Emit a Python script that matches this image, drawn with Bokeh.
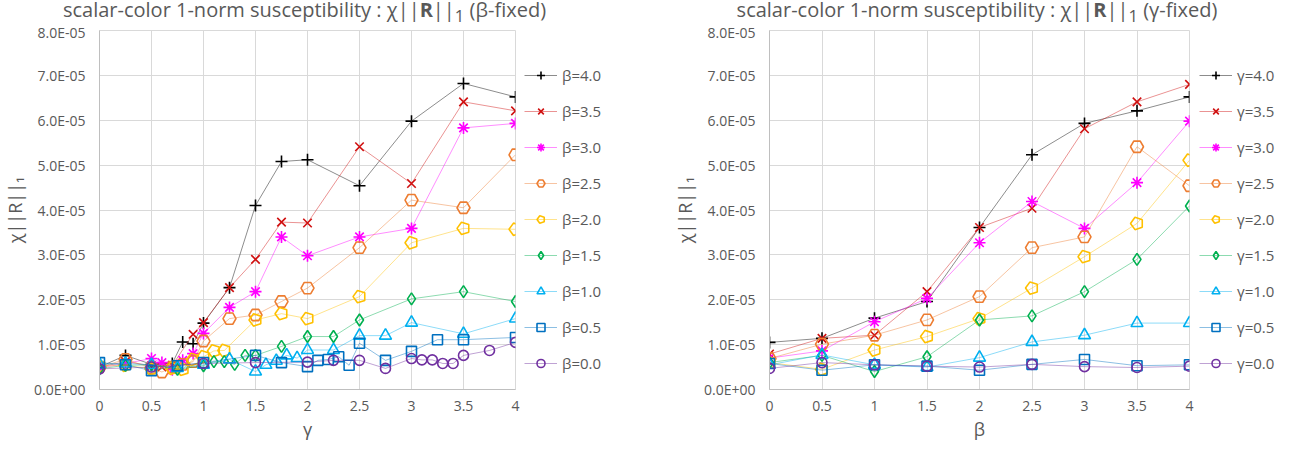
import numpy as np
from bokeh.plotting import figure
from bokeh.layouts import row, column
from bokeh.models import Range1d, FixedTicker, CustomJSTickFormatter, Legend, LegendItem, Div, Spacer
from bokeh.embed import file_html
from bokeh.resources import INLINE

SCALE = 1e-6  # values below are in units of 1E-06

# ---------------- left chart: beta fixed, x = gamma ----------------
b40_x = [0, 0.25, 0.5, 0.7, 0.8, 0.9, 1.0, 1.25, 1.5, 1.75, 2.0, 2.5, 3.0, 3.5, 4.0]
b40_y = [5.0, 7.6, 5.6, 5.8, 10.6, 10.2, 14.8, 22.7, 41.0, 50.8, 51.2, 45.4, 59.8, 68.2, 65.2]
b35_x = [0, 0.25, 0.5, 0.6, 0.7, 0.9, 1.0, 1.25, 1.5, 1.75, 2.0, 2.5, 3.0, 3.5, 4.0]
b35_y = [5.0, 6.2, 5.3, 5.0, 5.4, 12.3, 14.9, 22.7, 29.0, 37.3, 37.1, 54.1, 45.9, 64.1, 62.1]
b30_x = [0, 0.25, 0.5, 0.6, 0.7, 0.8, 0.9, 1.0, 1.25, 1.5, 1.75, 2.0, 2.5, 3.0, 3.5, 4.0]
b30_y = [4.8, 5.8, 6.9, 6.0, 4.4, 6.5, 8.0, 12.5, 18.3, 21.8, 34.0, 29.8, 34.0, 35.9, 58.3, 59.3]
b25_x = [0, 0.25, 0.5, 0.6, 0.7, 0.8, 0.9, 1.0, 1.25, 1.5, 1.75, 2.0, 2.5, 3.0, 3.5, 4.0]
b25_y = [5.0, 6.7, 4.8, 3.9, 5.0, 5.6, 6.2, 10.8, 15.8, 16.6, 19.6, 22.6, 31.6, 42.2, 40.5, 52.3]
b20_x = [0, 0.25, 0.5, 0.7, 0.8, 0.9, 1.0, 1.1, 1.2, 1.5, 1.75, 2.0, 2.5, 3.0, 3.5, 4.0]
b20_y = [5.2, 5.4, 4.6, 4.7, 4.5, 6.7, 7.3, 8.6, 8.7, 15.5, 16.9, 15.8, 20.7, 32.7, 35.9, 35.7]
b15_x = [0, 0.25, 0.5, 0.75, 1.0, 1.1, 1.2, 1.3, 1.4, 1.5, 1.75, 2.0, 2.25, 2.5, 3.0, 3.5, 4.0]
b15_y = [4.6, 5.4, 5.5, 4.5, 5.3, 6.2, 6.2, 5.6, 7.6, 7.6, 9.6, 11.8, 11.8, 15.5, 20.2, 21.8, 19.6]
b10_x = [0, 0.25, 0.5, 0.75, 1.0, 1.25, 1.5, 1.6, 1.7, 1.8, 1.9, 2.0, 2.25, 2.5, 2.75, 3.0, 3.5, 4.0]
b10_y = [5.6, 5.8, 5.5, 4.8, 5.5, 6.7, 4.0, 5.5, 6.4, 7.6, 7.0, 8.8, 8.8, 12.0, 12.0, 14.9, 12.4, 15.8]
b05_x = [0, 0.25, 0.5, 0.75, 1.0, 1.5, 1.75, 2.0, 2.1, 2.2, 2.3, 2.4, 2.5, 2.75, 3.0, 3.25, 3.5, 4.0]
b05_y = [6.0, 5.5, 4.2, 5.3, 6.0, 7.6, 6.0, 5.1, 6.5, 6.7, 7.3, 5.4, 10.3, 6.5, 8.5, 11.1, 11.1, 11.6]
b00_x = [0, 0.5, 1.0, 1.5, 2.0, 2.25, 2.5, 2.75, 3.0, 3.1, 3.2, 3.3, 3.4, 3.5, 3.75, 4.0]
b00_y = [4.6, 5.0, 5.8, 6.0, 6.1, 6.5, 6.5, 4.7, 6.9, 6.6, 6.6, 5.8, 5.8, 7.6, 8.7, 10.5]

# ---------------- right chart: gamma fixed, x = beta ----------------
beta_x = [0, 0.5, 1.0, 1.5, 2.0, 2.5, 3.0, 3.5, 4.0]
g40_y = [10.5, 11.4, 15.9, 19.6, 36.1, 52.3, 59.3, 62.1, 65.2]
g35_y = [7.9, 11.4, 12.1, 21.8, 36.1, 40.4, 58.1, 64.1, 68.0]
g30_y = [7.0, 8.6, 15.1, 20.3, 32.7, 41.9, 35.9, 46.1, 59.8]
g25_y = [6.9, 10.1, 12.1, 15.5, 20.7, 31.6, 34.0, 54.1, 45.4]
g20_y = [6.0, 4.5, 8.8, 11.8, 15.8, 22.6, 29.6, 37.0, 51.1]
g15_y = [6.0, 7.6, 4.0, 7.3, 15.5, 16.4, 21.8, 29.0, 40.9]
g10_y = [5.5, 7.7, 5.5, 5.0, 7.1, 10.6, 12.1, 14.8, 14.8]
g05_y = [5.8, 4.3, 5.5, 5.2, 4.3, 5.6, 6.7, 5.3, 5.5]
g00_y = [4.7, 6.0, 5.5, 5.2, 5.0, 5.6, 5.1, 4.9, 5.2]

left_labels = ["β=4.0", "β=3.5", "β=3.0", "β=2.5", "β=2.0", "β=1.5", "β=1.0", "β=0.5", "β=0.0"]
right_labels = ["γ=4.0", "γ=3.5", "γ=3.0", "γ=2.5", "γ=2.0", "γ=1.5", "γ=1.0", "γ=0.5", "γ=0.0"]
x_ticks = [0, 0.5, 1, 1.5, 2, 2.5, 3, 3.5, 4]
y_ticks = [0, 1e-5, 2e-5, 3e-5, 4e-5, 5e-5, 6e-5, 7e-5, 8e-5]
left_title = "scalar-color 1-norm susceptibility : χ||<b>R</b>||<sub>1</sub> (β-fixed)"
right_title = "scalar-color 1-norm susceptibility : χ||<b>R</b>||<sub>1</sub> (γ-fixed)"

colors = ["#000000", "#D01010", "#FF00FF", "#ED7D31", "#FFC000", "#00B050", "#00B0F0", "#0070C0", "#7030A0"]
markers = ["cross", "x", "asterisk", "hex", "pentagon", "diamond", "triangle", "square", "circle"]
msizes = [12, 12, 12, 13, 6.5, 12, 12, 10, 10]
legend_msizes = [10, 10, 10, 11, 5.5, 10, 10, 8, 8]

left_series = [(b40_x, b40_y), (b35_x, b35_y), (b30_x, b30_y), (b25_x, b25_y), (b20_x, b20_y),
               (b15_x, b15_y), (b10_x, b10_y), (b05_x, b05_y), (b00_x, b00_y)]
right_series = [(beta_x, g) for g in [g40_y, g35_y, g30_y, g25_y, g20_y, g15_y, g10_y, g05_y, g00_y]]

FONT = "Open Sans"
GRAY = "#595959"
H = 422
TITLE_H = 22

YFMT = CustomJSTickFormatter(code="""
var s = tick.toExponential(1); var parts = s.split('e'); var e = parseInt(parts[1]);
var sign = e < 0 ? '-' : '+'; var a = Math.abs(e);
return parts[0] + 'E' + sign + (a < 10 ? '0' : '') + a;
""")
XFMT = CustomJSTickFormatter(code="return String(tick);")


def draw_series(p, xs, yv, col, mk, ms):
    lr = p.line(xs, yv, line_color=col, line_alpha=0.45, line_width=1)
    if mk == "pentagon":
        mr = p.ngon(x=xs, y=yv, radius=ms, radius_units="screen", n=5, angle=np.pi / 2,
                    fill_color=None, line_color=col, line_width=1.6)
    else:
        mr = p.scatter(xs, yv, marker=mk, size=ms, fill_color=None, line_color=col, line_width=1.6)
    return lr, mr


def make_plot(xlabel, series, width, bl, br):
    p = figure(width=width, height=H,
               min_border_left=bl, min_border_right=br, min_border_top=8, min_border_bottom=55,
               x_range=Range1d(0, 4), y_range=Range1d(0, 8e-5),
               output_backend="svg", toolbar_location=None)
    p.outline_line_color = "#D9D9D9"
    p.background_fill_color = "white"
    p.border_fill_color = "white"
    for g in (p.xgrid, p.ygrid):
        g.grid_line_color = "#D9D9D9"
        g.grid_line_width = 1
    p.xaxis.ticker = FixedTicker(ticks=x_ticks)
    p.yaxis.ticker = FixedTicker(ticks=y_ticks)
    p.xaxis.formatter = XFMT
    p.yaxis.formatter = YFMT
    for ax in (p.xaxis, p.yaxis):
        ax.axis_line_color = "#BFBFBF"
        ax.major_tick_line_color = None
        ax.minor_tick_line_color = None
        ax.major_label_text_font = FONT
        ax.major_label_text_font_size = "14px"
        ax.major_label_text_color = GRAY
        ax.axis_label_text_font = FONT
        ax.axis_label_text_font_style = "normal"
        ax.axis_label_text_color = GRAY
        ax.axis_label_text_font_size = "18px"
    p.xaxis.major_label_standoff = 5
    p.yaxis.major_label_standoff = 8
    p.xaxis.axis_label = xlabel
    p.xaxis.axis_label_standoff = 3
    p.yaxis.axis_label = "χ||R||₁"
    p.yaxis.axis_label_standoff = 4
    for (xs, ys), col, mk, ms in zip(series, colors, markers, msizes):
        draw_series(p, xs, [v * SCALE for v in ys], col, mk, ms)
    return p


def make_legend(labels, width, xoff):
    q = figure(width=width, height=H, x_range=Range1d(0, 1), y_range=Range1d(0, 1),
               min_border=0, x_axis_location=None, y_axis_location=None,
               output_backend="svg", toolbar_location=None)
    q.grid.visible = False
    q.outline_line_color = None
    items = []
    nan = [float("nan")]
    for lab, col, mk, ms in zip(labels, colors, markers, legend_msizes):
        lr, mr = draw_series(q, nan, nan, col, mk, ms)
        items.append(LegendItem(label=lab, renderers=[lr, mr]))
    leg = Legend(items=items, location=(xoff, 16), margin=0, padding=10, ncols=1,
                 spacing=16, glyph_height=20, glyph_width=33, label_height=20,
                 label_standoff=5, label_text_font=FONT, label_text_font_size="15px",
                 label_text_color=GRAY, border_line_color=None, background_fill_alpha=0)
    q.add_layout(leg)
    return q


def make_title(html, width):
    return Div(text=html, width=width, height=TITLE_H, margin=(0, 0, 0, 0),
               styles={"font-family": FONT, "font-size": "20px", "color": GRAY,
                       "text-align": "center", "line-height": "20px", "white-space": "nowrap"})


p1 = make_plot("γ", left_series, 520, 93, 5)
l1 = make_legend(left_labels, 135, 4)
p2 = make_plot("β", right_series, 539, 114, 5)
l2 = make_legend(right_labels, 105, 5)

titles = row(make_title(left_title, 609), Spacer(width=46, height=TITLE_H), make_title(right_title, 644))
layout = column(titles, row(p1, l1, p2, l2))
open("out.html", "w").write(file_html(layout, INLINE))
